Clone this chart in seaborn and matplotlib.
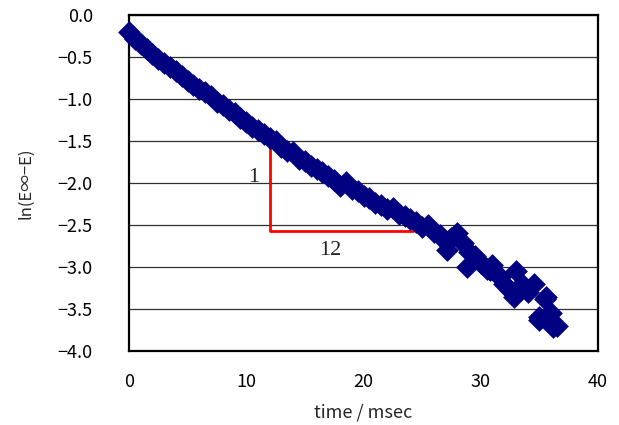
import matplotlib
matplotlib.use("Agg")
import matplotlib.pyplot as plt
import seaborn as sns
import pandas as pd

# ---- data ----
time_ms = [0.0, 0.5, 1.0, 1.5, 2.0, 2.5, 3.0, 3.5, 4.0, 4.5, 5.0, 5.5, 6.0, 6.5,
           7.0, 7.5, 8.0, 8.5, 9.0, 9.5, 10.0, 10.5, 11.0, 11.5, 12.0, 12.5,
           13.0, 13.5, 14.0, 14.5, 15.0, 15.5, 16.0, 16.5, 17.0, 17.5, 18.0,
           18.5, 19.0, 19.5, 20.0, 20.5, 21.0, 21.5, 22.0, 22.5, 23.0, 23.5,
           24.0, 24.5, 25.0, 25.5, 26.0, 26.5, 27.0, 27.1, 27.5, 28.0, 28.5,
           28.8, 29.0, 29.5, 30.0, 30.5, 30.8, 31.0, 31.5, 31.6, 32.0, 32.5,
           32.8, 33.0, 33.5, 34.0, 34.5, 35.0, 35.0, 35.5, 35.6, 36.0, 36.2,
           36.5]
ln_val = [-0.20, -0.28, -0.35, -0.41, -0.46, -0.52, -0.57, -0.62, -0.67, -0.73,
          -0.78, -0.83, -0.88, -0.92, -0.97, -1.03, -1.07, -1.13, -1.17, -1.23,
          -1.27, -1.33, -1.37, -1.42, -1.47, -1.50, -1.57, -1.62, -1.63, -1.72,
          -1.74, -1.80, -1.83, -1.87, -1.92, -1.97, -2.03, -1.99, -2.07, -2.10,
          -2.15, -2.18, -2.24, -2.26, -2.31, -2.30, -2.37, -2.39, -2.43, -2.46,
          -2.52, -2.50, -2.58, -2.62, -2.70, -2.80, -2.65, -2.60, -2.72, -3.00,
          -2.82, -2.87, -2.95, -3.02, -3.04, -2.98, -3.10, -3.12, -3.20, -3.27,
          -3.36, -3.05, -3.20, -3.30, -3.20, -3.60, -3.63, -3.38, -3.36, -3.55,
          -3.71, -3.70]

# slope triangle annotation (1 over 12)
tri_x = [12.0, 12.0, 24.2]
tri_y = [-1.58, -2.57, -2.57]
label_rise = "1"
label_run = "12"

x_ticks = [0, 10, 20, 30, 40]
y_ticks = [0.0, -0.5, -1.0, -1.5, -2.0, -2.5, -3.0, -3.5, -4.0]

sns.set_style("white")
plt.rcParams['font.family'] = ['Noto Sans CJK JP', 'DejaVu Sans']
plt.rcParams['axes.unicode_minus'] = True

fig = plt.figure(figsize=(6.19, 4.25), dpi=100)
ax = fig.add_axes([129/619, 1 - 351/425, (598-129)/619, (351-15)/425])

df = pd.DataFrame({"t": time_ms, "v": ln_val})
sns.scatterplot(data=df, x="t", y="v", marker="D", s=135, color="#000080",
                linewidth=0, ax=ax, zorder=3, clip_on=False)

ax.plot(tri_x, tri_y, color="red", lw=2, zorder=2)
ax.text(10.6, -1.93, label_rise, family="Liberation Serif", fontsize=16,
        ha="center", va="center")
ax.text(17.2, -2.80, label_run, family="Liberation Serif", fontsize=16,
        ha="center", va="center")

ax.set_xlim(0, 40)
ax.set_ylim(-4, 0)
ax.set_xticks(x_ticks)
ax.set_yticks(y_ticks)
ax.set_xticklabels([str(v) for v in x_ticks])
ax.set_yticklabels([f"{v:.1f}".replace("-", "\u2212") for v in y_ticks])
ax.tick_params(axis="both", direction="in", length=5, width=1, labelsize=13,
               colors="black")
ax.tick_params(axis="x", pad=16)
ax.tick_params(axis="y", length=0, pad=26)
ax.yaxis.grid(True, color="#303030", lw=0.9)
ax.xaxis.grid(False)
ax.set_axisbelow(True)
for sp in ax.spines.values():
    sp.set_visible(True)
    sp.set_color("black")
    sp.set_linewidth(1.6)

ax.set_xlabel("time / msec", fontsize=13, labelpad=9)
ax.set_ylabel("ln(E\u221e\u2212E)", fontsize=12, labelpad=17)

fig.savefig("out.png", dpi=100)
